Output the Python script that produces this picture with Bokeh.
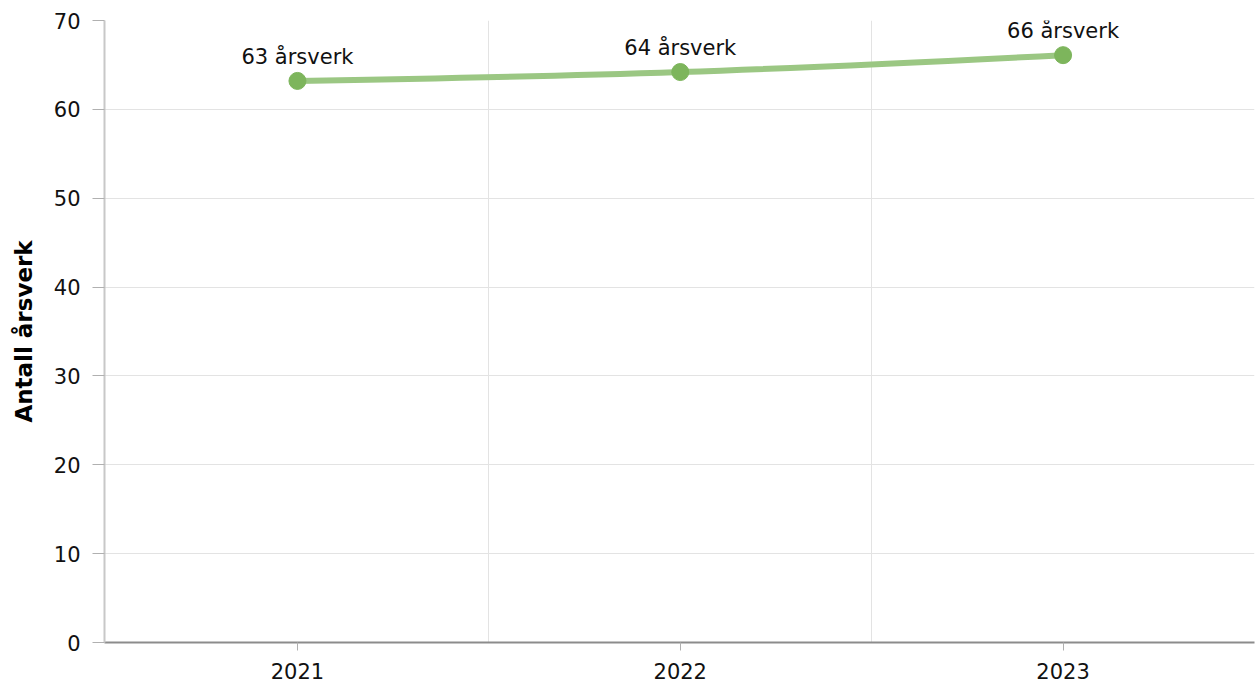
from bokeh.plotting import figure
from bokeh.models import FixedTicker, ColumnDataSource, Range1d
from bokeh.core.properties import value
from bokeh.embed import file_html
from bokeh.resources import INLINE

years = ["2021", "2022", "2023"]
values = [63.2, 64.2, 66.1]
labels = ["63 årsverk", "64 årsverk", "66 årsverk"]
y_ticks = [0, 10, 20, 30, 40, 50, 60, 70]

xs = [i + 1 for i in range(len(years))]

# spline control points (Highcharts-style smoothing)
def spline_segments(x, y, smoothing=1.5):
    n = len(x)
    lc = [(x[i], y[i]) for i in range(n)]
    rc = [(x[i], y[i]) for i in range(n)]
    d = smoothing + 1
    for i in range(1, n - 1):
        lx = (smoothing * x[i] + x[i - 1]) / d
        ly = (smoothing * y[i] + y[i - 1]) / d
        rx = (smoothing * x[i] + x[i + 1]) / d
        ry = (smoothing * y[i] + y[i + 1]) / d
        if rx != lx:
            corr = ((ry - ly) * (rx - x[i])) / (rx - lx) + y[i] - ry
            ly += corr
            ry += corr
        if ly > y[i - 1] and ly > y[i]:
            ly = max(y[i - 1], y[i]); ry = 2 * y[i] - ly
        elif ly < y[i - 1] and ly < y[i]:
            ly = min(y[i - 1], y[i]); ry = 2 * y[i] - ly
        if ry > y[i + 1] and ry > y[i]:
            ry = max(y[i + 1], y[i]); ly = 2 * y[i] - ry
        elif ry < y[i + 1] and ry < y[i]:
            ry = min(y[i + 1], y[i]); ly = 2 * y[i] - ry
        lc[i] = (lx, ly)
        rc[i] = (rx, ry)
    seg = dict(x0=[], y0=[], x1=[], y1=[], cx0=[], cy0=[], cx1=[], cy1=[])
    for i in range(1, n):
        seg["x0"].append(x[i - 1]); seg["y0"].append(y[i - 1])
        seg["x1"].append(x[i]); seg["y1"].append(y[i])
        seg["cx0"].append(rc[i - 1][0]); seg["cy0"].append(rc[i - 1][1])
        seg["cx1"].append(lc[i][0]); seg["cy1"].append(lc[i][1])
    return seg

FONT = "DejaVu Sans"

p = figure(width=1256, height=693, output_backend="svg", toolbar_location=None,
           x_range=Range1d(0.496, 3.5), y_range=Range1d(0, 70),
           min_border_left=104, min_border_top=20, min_border_right=2, min_border_bottom=51)
p.outline_line_color = None
p.background_fill_color = "white"

seg = spline_segments(xs, values)
p.bezier(x0="x0", y0="y0", x1="x1", y1="y1", cx0="cx0", cy0="cy0", cx1="cx1", cy1="cy1",
         source=ColumnDataSource(seg), line_color="#9bc783", line_width=6)

src = ColumnDataSource(dict(x=xs, y=values, label=labels))
p.scatter("x", "y", source=src, size=17, fill_color="#7db55c", line_color="#7db55c")
p.text("x", "y", text="label", source=src, text_align="center", text_baseline="bottom",
       y_offset=-12, text_font=value(FONT), text_font_size="21px", text_color="#111111")

p.xaxis.ticker = FixedTicker(ticks=xs)
p.xaxis.major_label_overrides = {xv: yr for xv, yr in zip(xs, years)}
p.xaxis.major_tick_in = 0
p.xaxis.major_tick_out = 8
p.xaxis.minor_tick_line_color = None
p.xaxis.axis_line_color = "#8c8c8c"
p.xaxis.axis_line_width = 2
p.xaxis.major_tick_line_color = "#b0b0b0"
p.xaxis.major_label_text_font = FONT
p.xaxis.major_label_text_font_size = "21px"
p.xaxis.major_label_text_color = "#111111"
p.xaxis.major_label_standoff = 12

p.yaxis.ticker = FixedTicker(ticks=y_ticks)
p.yaxis.major_tick_in = 0
p.yaxis.major_tick_out = 12
p.yaxis.minor_tick_line_color = None
p.yaxis.axis_line_color = "#c8c8c8"
p.yaxis.axis_line_width = 2
p.yaxis.major_tick_line_color = "#b0b0b0"
p.yaxis.major_label_text_font = FONT
p.yaxis.major_label_text_font_size = "21px"
p.yaxis.major_label_text_color = "#111111"
p.yaxis.major_label_standoff = 12
p.yaxis.axis_label = "Antall årsverk"
p.yaxis.axis_label_text_font = FONT
p.yaxis.axis_label_text_font_style = "bold"
p.yaxis.axis_label_text_font_size = "23px"
p.yaxis.axis_label_text_color = "#000000"
p.yaxis.axis_label_standoff = 14

p.xgrid.ticker = FixedTicker(ticks=[1.5, 2.5])
p.xgrid.grid_line_color = "#e3e3e3"
p.ygrid.ticker = FixedTicker(ticks=y_ticks)
p.ygrid.grid_line_color = "#e3e3e3"

open("out.html", "w").write(file_html(p, INLINE))
